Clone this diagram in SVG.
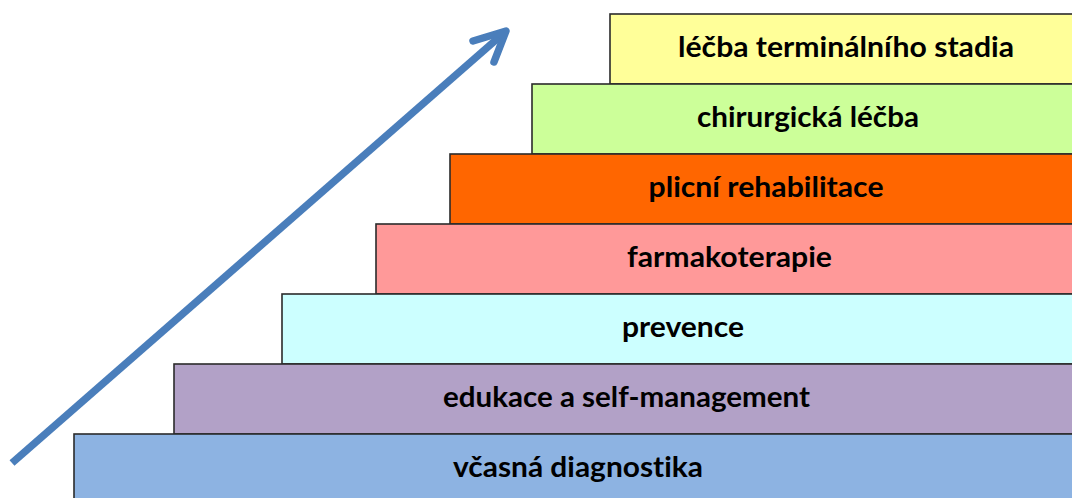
<svg xmlns="http://www.w3.org/2000/svg" width="1072" height="498" viewBox="0 0 1072 498">
<style>
.box{stroke:#2b2b2b;stroke-width:1.6}
.t{font-family:Lato,"Open Sans","Liberation Sans",sans-serif;font-weight:bold;font-size:28px;fill:#000;text-anchor:middle;font-variant-ligatures:none;font-feature-settings:"liga" 0,"dlig" 0}
.arr{fill:none;stroke:#4a7ebb;stroke-width:7.5}
</style>
<rect width="1072" height="498" fill="#fff"/>
<g id="n7"><rect class="box" x="610" y="14" width="473" height="70" fill="#ffff99"/><text class="t" x="846" y="57" textLength="336" lengthAdjust="spacingAndGlyphs">léčba terminálního stadia</text></g>
<g id="n6"><rect class="box" x="532" y="84" width="551" height="70" fill="#ccff99"/><text class="t" x="808" y="127" textLength="222" lengthAdjust="spacingAndGlyphs">chirurgická léčba</text></g>
<g id="n5"><rect class="box" x="450" y="154" width="633" height="70" fill="#ff6600"/><text class="t" x="766" y="197" textLength="235" lengthAdjust="spacingAndGlyphs">plicní rehabilitace</text></g>
<g id="n4"><rect class="box" x="376" y="224" width="707" height="70" fill="#ff9999"/><text class="t" x="729.5" y="267" textLength="205" lengthAdjust="spacingAndGlyphs">farmakoterapie</text></g>
<g id="n3"><rect class="box" x="282" y="294" width="801" height="70" fill="#ccffff"/><text class="t" x="683" y="337" textLength="122" lengthAdjust="spacingAndGlyphs">prevence</text></g>
<g id="n2"><rect class="box" x="174" y="364" width="909" height="70" fill="#b2a1c7"/><text class="t" x="626.5" y="407" textLength="367" lengthAdjust="spacingAndGlyphs">edukace a self-management</text></g>
<g id="n1"><rect class="box" x="74" y="434" width="1009" height="70" fill="#8db3e2"/><text class="t" x="578" y="477" textLength="250" lengthAdjust="spacingAndGlyphs">včasná diagnostika</text></g>
<g id="connectors">
<line class="arr" x1="12" y1="463" x2="505" y2="32"/>
<polyline class="arr" stroke-linecap="round" stroke-linejoin="round" points="473,41 506,31 494,62"/>
</g>
</svg>
